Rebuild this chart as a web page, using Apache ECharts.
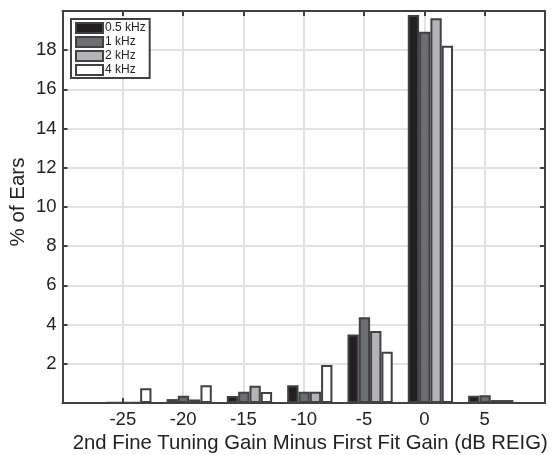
<!DOCTYPE html>
<html>
<head>
<meta charset="utf-8">
<script src="https://cdn.jsdelivr.net/npm/echarts@6/dist/echarts.min.js"></script>
<style>
  html, body { margin: 0; padding: 0; background: #fff; }
  #chart { width: 553px; height: 455px; }
</style>
</head>
<body>
<div id="chart"></div>
<script>
// Gain difference bins (dB REIG) and the share of ears in each bin, per frequency
const gainDiff = [-25, -20, -15, -10, -5, 0, 5];
const freqNames = ['0.5 kHz', '1 kHz', '2 kHz', '4 kHz'];
const ears05k = [0.03, 0.20, 0.36, 0.90, 3.50, 19.80, 0.37];
const ears1k  = [0.03, 0.37, 0.58, 0.58, 4.37, 18.94, 0.39];
const ears2k  = [0.03, 0.18, 0.88, 0.58, 3.67, 19.63, 0.15];
const ears4k  = [0.75, 0.90, 0.56, 1.94, 2.62, 18.23, 0.15];
const yTicks = [2, 4, 6, 8, 10, 12, 14, 16, 18];

const seriesValues = [ears05k, ears1k, ears2k, ears4k];
const fills = ['#231f20', '#6d6e71', '#b3b4b7', '#ffffff'];
const edge = '#414042';
const gridCol = '#e2e2e2';
const FONT = 'Liberation Sans';
// bar groups sit a little to the right of each tick
const GROUP_SHIFT = 0.5;

const chart = echarts.init(document.getElementById('chart'), null, { renderer: 'canvas' });

const boxAxisLine = { show: true, onZero: false, lineStyle: { color: edge, width: 2 } };
const innerTick = { show: true, inside: true, length: 5, lineStyle: { color: edge, width: 2 } };

const option = {
  animation: false,
  backgroundColor: '#fff',
  textStyle: { fontFamily: FONT },
  grid: { left: 62.5, right: 8, top: 11, bottom: 52, containLabel: false, outerBoundsMode: 'none' },
  legend: {
    orient: 'vertical',
    left: 71, top: 19,
    padding: [3, 4, 2, 4],
    itemWidth: 27, itemHeight: 10, itemGap: 2,
    borderColor: edge, borderWidth: 2, backgroundColor: '#fff',
    icon: 'rect',
    textStyle: { fontFamily: FONT, fontSize: 12, color: '#222', padding: [0, 0, 0, -3], lineHeight: 12 },
    data: freqNames
  },
  xAxis: [
    {
      type: 'value', min: -30, max: 10, interval: 5,
      position: 'bottom',
      name: '2nd Fine Tuning Gain Minus First Fit Gain (dB REIG)',
      nameLocation: 'middle', nameGap: 28,
      nameTextStyle: { fontFamily: FONT, fontSize: 20.3, color: '#222', padding: [0, 0, 0, 13] },
      axisLine: boxAxisLine, axisTick: innerTick,
      splitLine: { show: true, lineStyle: { color: gridCol, width: 2 } },
      axisLabel: {
        fontFamily: FONT, fontSize: 18.5, color: '#222', margin: 7,
        formatter: v => (gainDiff.indexOf(v) >= 0 ? String(v) : '')
      }
    },
    {
      type: 'value', min: -30, max: 10, interval: 5,
      position: 'top',
      axisLine: boxAxisLine, axisTick: innerTick,
      splitLine: { show: false }, axisLabel: { show: false }
    }
  ],
  yAxis: [
    {
      type: 'value', min: 0, max: 20, interval: 2,
      position: 'left',
      name: '% of Ears', nameLocation: 'middle', nameGap: 34, nameRotate: 90,
      nameMoveOverlap: false,
      nameTextStyle: { fontFamily: FONT, fontSize: 20.5, color: '#222', padding: [0, 0, 0, 10] },
      axisLine: boxAxisLine, axisTick: innerTick,
      splitLine: { show: true, lineStyle: { color: gridCol, width: 2 } },
      axisLabel: {
        fontFamily: FONT, fontSize: 18.5, color: '#222', margin: 6,
        formatter: v => (yTicks.indexOf(v) >= 0 ? String(v) : '')
      }
    },
    {
      type: 'value', min: 0, max: 20, interval: 2,
      position: 'right',
      axisLine: boxAxisLine, axisTick: innerTick,
      splitLine: { show: false }, axisLabel: { show: false }
    }
  ],
  series: freqNames.map((name, i) => ({
    name: name,
    type: 'bar',
    xAxisIndex: 0, yAxisIndex: 0,
    barGap: '0%',
    barCategoryGap: '25%',
    itemStyle: { color: fills[i], borderColor: edge, borderWidth: 2 },
    data: gainDiff.map((g, k) => [g + GROUP_SHIFT, seriesValues[i][k]])
  }))
};

chart.setOption(option);
</script>
</body>
</html>
